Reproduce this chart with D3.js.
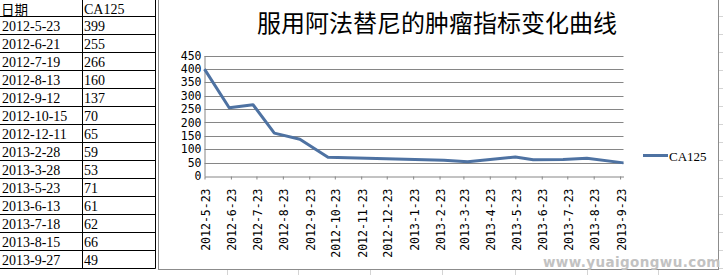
<!DOCTYPE html>
<html lang="zh">
<head>
<meta charset="UTF-8">
<title>CA125</title>
<script src="https://d3js.org/d3.v7.min.js"></script>
<style>
    body { margin: 0; padding: 0; background: #fff; }
    svg { display: block; }
</style>
</head>
<body>
<svg id="chart" width="723" height="275"></svg>
<script>
    // data read from the sheet on the left
    var dates = ["2012-5-23", "2012-6-21", "2012-7-19", "2012-8-13", "2012-9-12", "2012-10-15", "2012-12-11",
        "2013-2-28", "2013-3-28", "2013-5-23", "2013-6-13", "2013-7-18", "2013-8-15", "2013-9-27"];
    var ca125 = [399, 255, 266, 160, 137, 70, 65, 59, 53, 71, 61, 62, 66, 49];
    var yTicks = [0, 50, 100, 150, 200, 250, 300, 350, 400, 450];
    var xTickLabels = ["2012-5-23", "2012-6-23", "2012-7-23", "2012-8-23", "2012-9-23", "2012-10-23", "2012-11-23",
        "2012-12-23", "2013-1-23", "2013-2-23", "2013-3-23", "2013-4-23", "2013-5-23", "2013-6-23", "2013-7-23",
        "2013-8-23", "2013-9-23"];
    var title = "服用阿法替尼的肿瘤指标变化曲线";
    var seriesName = "CA125";

    var parse = d3.timeParse("%Y-%-m-%-d");
    var lineColor = "#4e72a2";
    var gridColor = "#868686";

    var svg = d3.select("#chart");

    // spreadsheet background lines
    var cellLine = "#d4d4d4";
    [227, 298, 370, 442, 515, 587, 658].forEach(function (x) {
        svg.append("line").attr("x1", x + 0.5).attr("x2", x + 0.5).attr("y1", 269).attr("y2", 275)
            .attr("stroke", cellLine);
    });
    d3.range(1, 16).forEach(function (i) {
        svg.append("line").attr("x1", 719).attr("x2", 723).attr("y1", 18 * i - 1.5).attr("y2", 18 * i - 1.5)
            .attr("stroke", cellLine);
    });

    // table
    var table = svg.append("g");
    d3.range(1, 16).forEach(function (i) {
        table.append("line").attr("x1", 0).attr("x2", 155.5)
            .attr("y1", 18 * i - 1.5).attr("y2", 18 * i - 1.5).attr("stroke", "#000");
    });
    [82.5, 155.5].forEach(function (x) {
        table.append("line").attr("x1", x).attr("x2", x).attr("y1", 0).attr("y2", 268.5).attr("stroke", "#000");
    });
    table.append("text").attr("x", 1).attr("y", 14.5)
        .attr("font-family", "Noto Sans CJK SC").attr("font-size", 13.5).text("日期");
    table.append("text").attr("x", 84).attr("y", 13.5)
        .attr("font-family", "Liberation Serif").attr("font-size", 14).text(seriesName);
    dates.forEach(function (d, i) {
        var y = 18 * (i + 1) + 12.5;
        table.append("text").attr("x", 2).attr("y", y)
            .attr("font-family", "Liberation Serif").attr("font-size", 14).text(d);
        table.append("text").attr("x", 84).attr("y", y)
            .attr("font-family", "Liberation Serif").attr("font-size", 14).text(ca125[i]);
    });

    // chart area
    svg.append("rect").attr("x", 158.5).attr("y", -1).attr("width", 560).attr("height", 270.5)
        .attr("fill", "#fff").attr("stroke", "#8c8c8c");

    svg.append("text").attr("x", 257).attr("y", 31.5)
        .attr("font-family", "Noto Sans CJK SC").attr("font-size", 24).attr("fill", "#000")
        .text(title);

    var x = d3.scaleTime()
        .domain([parse(dates[0]), parse(dates[dates.length - 1])])
        .range([204.5, 623.5]);
    var y = d3.scaleLinear().domain([0, 450]).range([176, 55.5]);

    // gridlines
    svg.append("g").selectAll("line").data(yTicks.slice(1)).enter().append("line")
        .attr("x1", 204.5).attr("x2", 623.5)
        .attr("y1", function (d) { return Math.round(y(d)) + 0.5; })
        .attr("y2", function (d) { return Math.round(y(d)) + 0.5; })
        .attr("stroke", gridColor);

    var yAxis = svg.append("g").attr("transform", "translate(204.5,0)")
        .call(d3.axisLeft(y).tickValues(yTicks).tickSize(0).tickPadding(3));
    yAxis.select(".domain").attr("stroke", gridColor);
    yAxis.selectAll("text").attr("font-family", "DejaVu Sans Mono").attr("font-size", 11.5).attr("fill", "#000");

    var xAxis = svg.append("g").attr("transform", "translate(0,176.5)")
        .call(d3.axisBottom(x)
            .tickValues(xTickLabels.map(parse))
            .tickFormat(function (d, i) { return xTickLabels[i]; })
            .tickSizeInner(3).tickSizeOuter(0));
    xAxis.select(".domain").attr("stroke", gridColor);
    xAxis.selectAll(".tick line").attr("stroke", gridColor);
    xAxis.selectAll("text")
        .attr("font-family", "DejaVu Sans Mono").attr("font-size", 11.5).attr("fill", "#000")
        .attr("text-anchor", "end")
        .attr("transform", "translate(1,12) rotate(-90)")
        .attr("x", 0).attr("y", 0).attr("dy", "0.35em");

    // series line
    var line = d3.line()
        .x(function (d, i) { return x(parse(dates[i])); })
        .y(function (d) { return y(d); });
    svg.append("path").datum(ca125)
        .attr("d", line)
        .attr("fill", "none").attr("stroke", lineColor).attr("stroke-width", 3)
        .attr("stroke-linejoin", "round");

    // legend
    svg.append("line").attr("x1", 643).attr("x2", 668).attr("y1", 155.5).attr("y2", 155.5)
        .attr("stroke", lineColor).attr("stroke-width", 3);
    svg.append("text").attr("x", 669).attr("y", 161)
        .attr("font-family", "Liberation Serif").attr("font-size", 13).text(seriesName);

    // watermark
    svg.append("text").attr("x", 543).attr("y", 267)
        .attr("font-family", "DejaVu Sans").attr("font-weight", "bold").attr("font-size", 13.5)
        .attr("letter-spacing", 0.4).attr("fill", "#c2c2c2")
        .text("www.yuaigongwu.com");
</script>
</body>
</html>
